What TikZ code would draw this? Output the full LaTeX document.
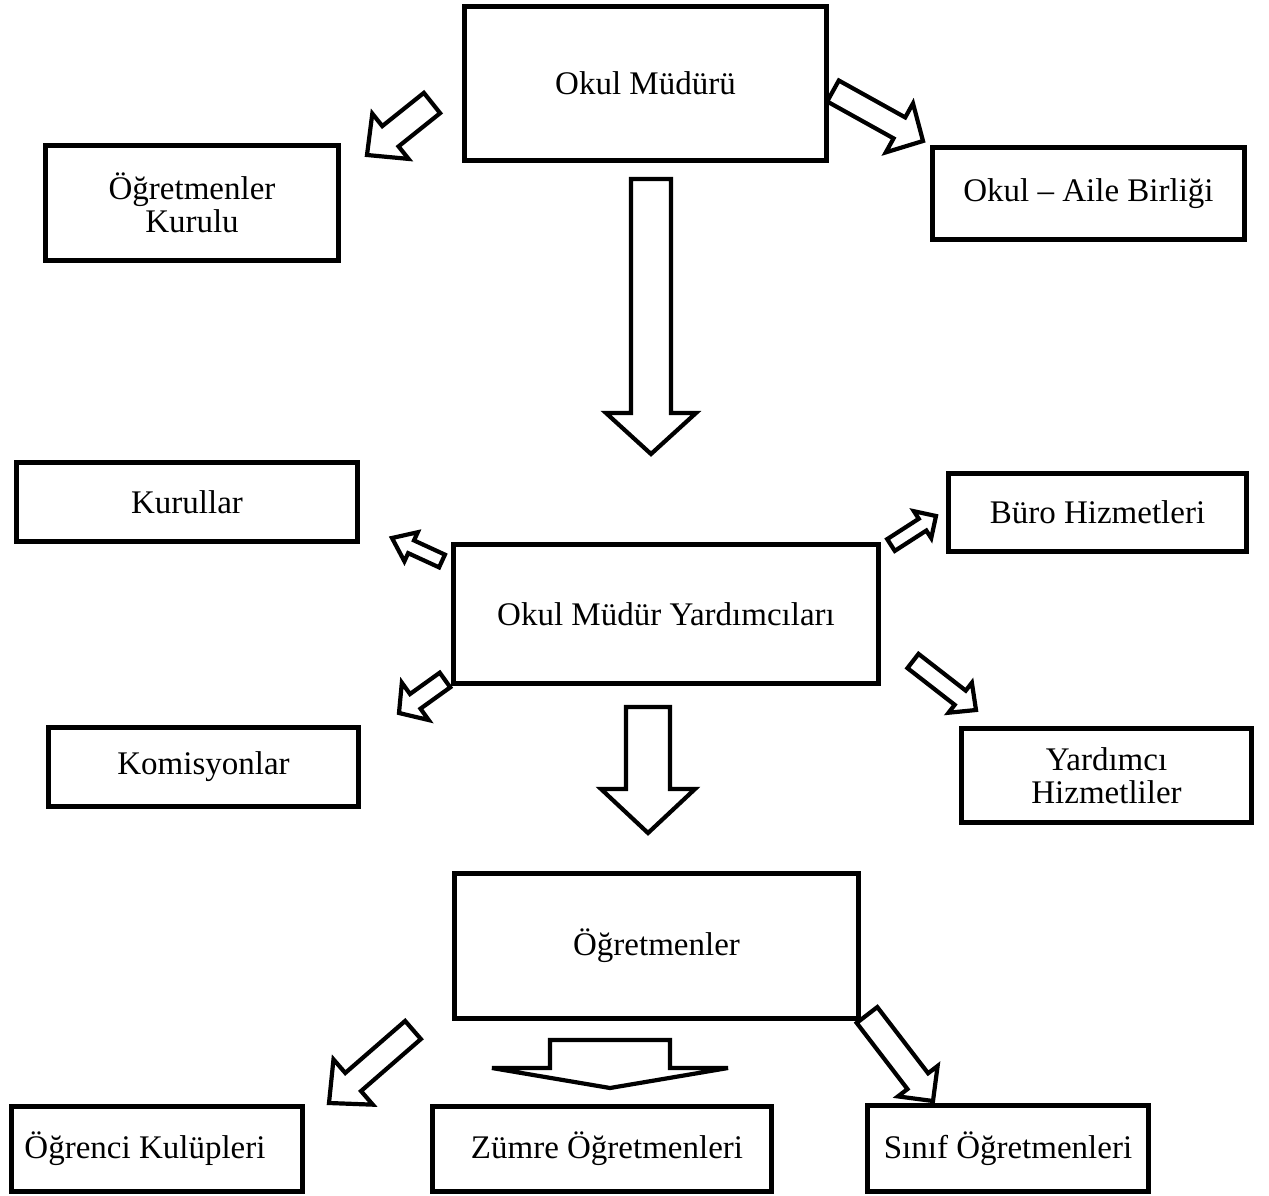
\documentclass[tikz,border=0pt]{standalone}
\usepackage{fontspec}
\setmainfont{Liberation Serif}
\usetikzlibrary{calc}

% block arrow: start, tip, shaft half width, head half width, head length
\newcommand{\blokok}[5]{%
  \coordinate (hb) at ($(#2)!#5pt!(#1)$);
  \draw[blok] ($(#1)!#3pt!90:(#2)$) -- ($(hb)!#3pt!90:(#2)$)
    -- ($(hb)!#4pt!90:(#2)$) -- (#2) -- ($(hb)!#4pt!-90:(#2)$)
    -- ($(hb)!#3pt!-90:(#2)$) -- ($(#1)!#3pt!-90:(#2)$) -- cycle;
}

\begin{document}
\begin{tikzpicture}[x=1pt,y=-1pt,
    birim/.style={draw, line width=4.6pt, align=center, inner sep=0pt,
      font=\fontsize{33}{33}\selectfont},
    blok/.style={draw, line width=4.2pt, fill=white, line join=miter}]
  \useasboundingbox (0,0) rectangle (1269,1196);

  \node[birim, minimum width=362pt, minimum height=154pt] (mudur) at (645.5,83.5) {Okul Müdürü};
  \node[birim, minimum width=293pt, minimum height=115pt] (kurulu) at (192,203) {Öğretmenler\\Kurulu};
  \node[birim, minimum width=312pt, minimum height=92pt] (aile) at (1088.5,193.5) {Okul – Aile Birliği};

  \node[birim, minimum width=341pt, minimum height=79pt] (kurullar) at (187,502) {Kurullar};
  \node[birim, minimum width=298pt, minimum height=78pt] (buro) at (1097.5,512.5) {Büro Hizmetleri};
  \node[birim, minimum width=425pt, minimum height=139pt] (yard) at (666,614) {Okul Müdür Yardımcıları};
  \node[birim, minimum width=310pt, minimum height=79pt] (komisyon) at (203.5,767) {Komisyonlar};
  \node[birim, minimum width=290pt, minimum height=94pt] (hizmetli) at (1106.5,775.5) {Yardımcı\\Hizmetliler};

  \node[birim, minimum width=404pt, minimum height=145pt] (ogretmen) at (656.5,946) {Öğretmenler};
  \node[birim, minimum width=291pt, minimum height=85pt] (kulup) at (157,1149) {Öğrenci Kulüpleri\hspace{24pt}};
  \node[birim, minimum width=339pt, minimum height=85pt] (zumre) at (602,1149) {\hspace{10pt}Zümre Öğretmenleri};
  \node[birim, minimum width=281pt, minimum height=86pt] (sinif) at (1008,1148.5) {Sınıf Öğretmenleri};

  % arrow ends
  \coordinate (a1) at (432,103);  \coordinate (b1) at (367,155);
  \coordinate (a2) at (833,91);   \coordinate (b2) at (923,141);
  \coordinate (a3) at (651,179);  \coordinate (b3) at (651,454);
  \coordinate (a4) at (442,561);  \coordinate (b4) at (392,538);
  \coordinate (a5) at (891,545);  \coordinate (b5) at (936,516);
  \coordinate (a6) at (445,680);  \coordinate (b6) at (399,713);
  \coordinate (a7) at (913,661);  \coordinate (b7) at (976,710);
  \coordinate (a8) at (648,707);  \coordinate (b8) at (648,833);
  \coordinate (a9) at (413,1030); \coordinate (b9) at (329,1103);
  \coordinate (a10) at (610,1040); \coordinate (b10) at (610,1088);
  \coordinate (a11) at (867,1015); \coordinate (b11) at (933,1101);

  \blokok{a1}{b1}{13}{29}{30}
  \blokok{a2}{b2}{12}{28}{27}
  \blokok{a3}{b3}{20}{45}{41}
  \blokok{a4}{b4}{7}{16}{21}
  \blokok{a5}{b5}{7}{16}{16}
  \blokok{a6}{b6}{9}{23}{20}
  \blokok{a7}{b7}{9}{19}{20}
  \blokok{a8}{b8}{22}{47}{44}
  \blokok{a9}{b9}{12}{30}{32}
  \blokok{a10}{b10}{60}{118}{20}
  \blokok{a11}{b11}{13}{25}{25}
\end{tikzpicture}
\end{document}
